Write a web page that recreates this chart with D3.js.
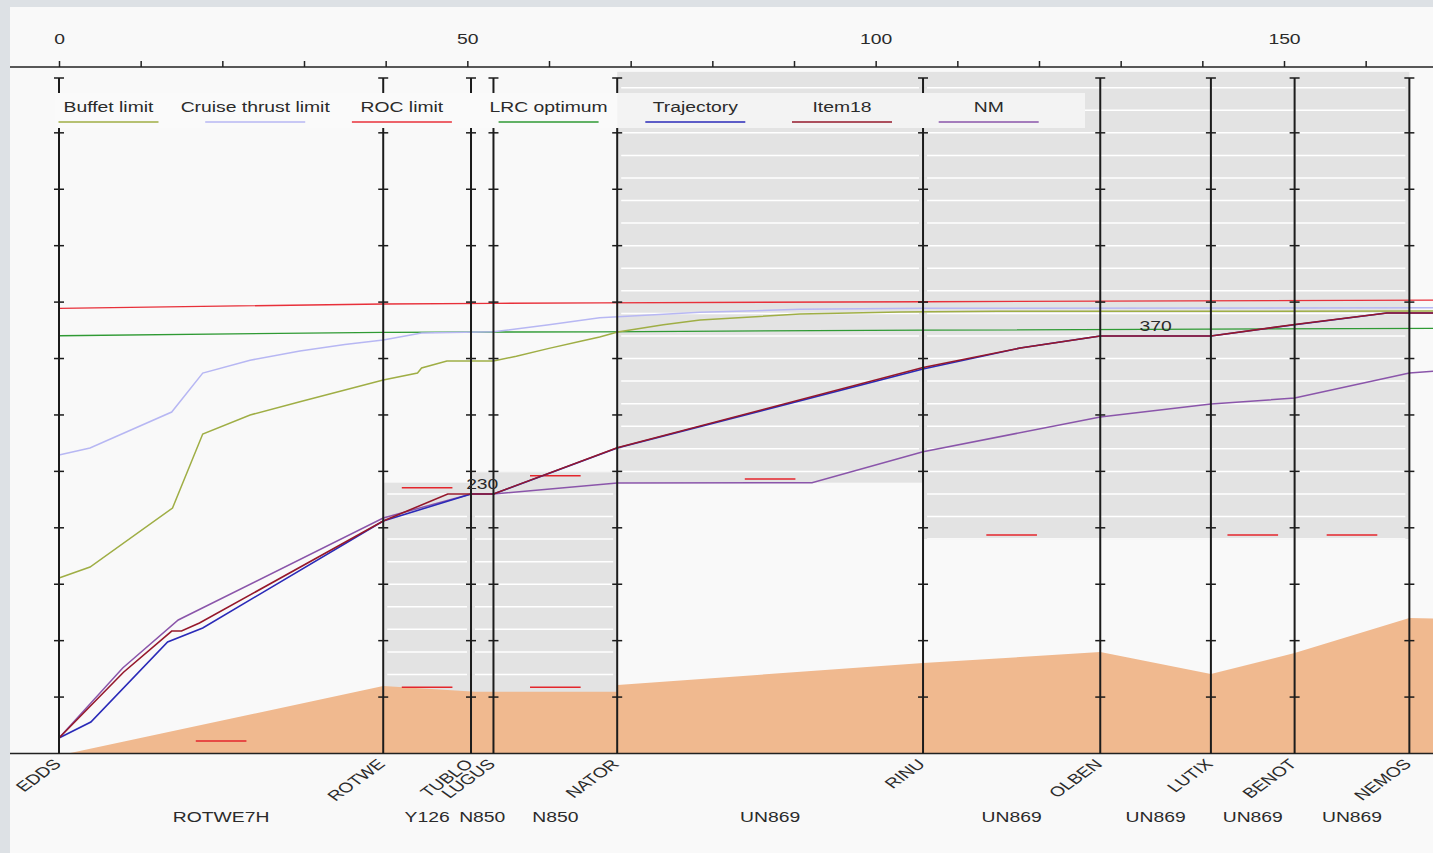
<!DOCTYPE html>
<html>
<head>
<meta charset="utf-8">
<script src="https://cdn.jsdelivr.net/npm/d3@7"></script>
<style>
  body { margin: 0; background: #fafafa; }
  svg { display: block; font-family: "Liberation Sans", Arial, sans-serif; }
</style>
</head>
<body>
<div id="myChart"></div>
<script>
// route
const waypoints = ['EDDS', 'ROTWE', 'TUBLO', 'LUGUS', 'NATOR', 'RINU', 'OLBEN', 'LUTIX', 'BENOT', 'NEMOS'];
const waypointDist = [0, 39.7, 50.45, 53.2, 68.35, 105.8, 127.5, 141.05, 151.3, 165.35];
const airways = ['ROTWE7H', 'Y126', 'N850', 'N850', 'UN869', 'UN869', 'UN869', 'UN869', 'UN869'];

// axes
const distTicks = [0, 10, 20, 30, 40, 50, 60, 70, 80, 90, 100, 110, 120, 130, 140, 150, 160, 170];
const distLabels = [0, 50, 100, 150];
const flTicks = [50, 100, 150, 200, 250, 300, 350, 400, 450, 500, 550];

// series (distance NM / flight level)
const buffetDist = [0, 3.8, 13.9, 17.6, 23.4, 29.5, 39.7, 43.9, 44.4, 47.5, 53.2, 56, 60, 64, 66.2, 68.4, 74, 78.5, 90.7, 103, 115, 170];
const buffetFL = [155.5, 165.2, 217.5, 283.1, 300, 311.7, 331, 337.1, 341.6, 347.8, 347.8, 352, 359, 365.5, 369, 373.5, 380, 384.1, 389.4, 391.2, 391.8, 392.1];
const cruiseDist = [0, 3.8, 13.8, 17.6, 23.4, 29.5, 35, 39.7, 44.4, 53.2, 60, 66.2, 78.5, 90.7, 105.8, 170];
const cruiseFL = [264.5, 270.7, 302.6, 337.1, 348.5, 356.6, 362.5, 366.4, 372.6, 373.7, 380, 386.1, 390.9, 393.6, 394.5, 395];
const rocDist = [0, 39.7, 53.2, 66.2, 105.8, 170];
const rocFL = [394.5, 398.3, 398.9, 399.4, 400.3, 401.8];
const lrcDist = [0, 39.7, 66.2, 105.8, 170];
const lrcFL = [370.2, 373.2, 373.7, 375.2, 376.7];
const trajDist = [0, 3.9, 13.3, 17.6, 39.7, 50.45, 53.2, 68.35, 105.8, 117.7, 127.5, 141.05, 151.3, 162.6, 170];
const trajFL = [13.7, 27.9, 98.8, 111.2, 206, 230, 230, 270.7, 340.7, 359.3, 370, 370, 380, 390.3, 390.3];
const item18Dist = [0, 7.9, 13.8, 15.0, 17.2, 39.7, 47.6, 50.45, 53.2, 68.35, 105.8, 117.7, 127.5, 141.05, 151.3, 162.6, 170];
const item18FL = [13.7, 72, 108.5, 108.5, 115.6, 206, 230, 230, 230, 271, 342, 359.3, 370, 370, 380.1, 390.3, 390.3];
const nmDist = [0, 7.8, 14.6, 39.7, 50.45, 53.2, 68.35, 92.2, 105.8, 127.5, 141.05, 151.3, 165.35, 170];
const nmFL = [13.7, 75.8, 118.3, 208.7, 230, 230, 239.7, 240, 267.4, 298.2, 309.7, 315, 337.2, 339.8];
const terrainDist = [1.1, 39.7, 51, 68.3, 68.4, 105.8, 127.5, 141.05, 151.3, 165.35, 170];
const terrainFL = [0, 59.8, 54.8, 54.8, 60.7, 80.2, 89.9, 70.4, 89, 120.1, 119.2];

// restricted blocks between waypoints (index from, index to, low FL, high FL)
const blockFrom = [1, 2, 4, 5];
const blockTo = [2, 4, 5, 9];
const blockLow = [0, 0, 240, 190];
const blockHigh = [240, 250, 604, 604];

// constraint dashes per segment
const dashSeg = [0, 1, 1, 3, 3, 4, 5, 7, 8];
const dashFL = [11.1, 235.5, 58.6, 246.2, 58.6, 243.2, 193.6, 193.6, 193.6];

// cruise level labels
const levelSeg = [2, 6];
const levelFL = [230, 370];

const legendLabels = ['Buffet limit', 'Cruise thrust limit', 'ROC limit', 'LRC optimum', 'Trajectory', 'Item18', 'NM'];
const legendColors = ['#9fae45', '#b7b7f3', '#e8303a', '#2f9a34', '#2a2ab8', '#95182b', '#8a55aa'];

const W = 1433, H = 853;
const sx = 1.38; // text is drawn horizontally stretched
const fs = 14;
const x = d3.scaleLinear().domain([0, 150]).range([59, 1284]);
const y = d3.scaleLinear().domain([0, 400]).range([753.5, 302.1]);
const textColor = '#2b2b2b';

const svg = d3.select('#myChart').append('svg').attr('width', W).attr('height', H);

svg.append('rect').attr('width', W).attr('height', H).attr('fill', '#f9f9f9');

// gray blocks
const blocks = blockFrom.map((f, i) => ({
  x0: x(waypointDist[f]), x1: x(waypointDist[blockTo[i]]),
  y0: y(blockHigh[i]), y1: y(blockLow[i])
}));
const defs = svg.append('defs');
const clip = defs.append('clipPath').attr('id', 'blockClip');
blocks.forEach(b => clip.append('rect').attr('x', b.x0 + 4).attr('y', b.y0).attr('width', b.x1 - b.x0 - 8).attr('height', b.y1 - b.y0));

svg.selectAll('rect.block').data(blocks).enter().append('rect')
  .attr('class', 'block')
  .attr('x', d => d.x0).attr('y', d => d.y0)
  .attr('width', d => d.x1 - d.x0).attr('height', d => d.y1 - d.y0)
  .attr('fill', '#e3e3e3');

const gridLevels = d3.range(10, 600, 20);
svg.append('g').attr('clip-path', 'url(#blockClip)')
  .selectAll('line').data(gridLevels).enter().append('line')
  .attr('x1', 10).attr('x2', W)
  .attr('y1', d => y(d)).attr('y2', d => y(d))
  .attr('stroke', '#fff').attr('stroke-width', 1.5);

// terrain
const terrain = terrainDist.map((d, i) => [d, terrainFL[i]]);
svg.append('path').datum(terrain)
  .attr('d', d3.area().x(d => x(d[0])).y0(y(0)).y1(d => y(d[1])))
  .attr('fill', '#f0b98f');

// constraint dashes
svg.selectAll('line.dash').data(dashSeg).enter().append('line')
  .attr('class', 'dash')
  .attr('x1', (s) => x((waypointDist[s] + waypointDist[s + 1]) / 2 - 3.1))
  .attr('x2', (s) => x((waypointDist[s] + waypointDist[s + 1]) / 2 + 3.1))
  .attr('y1', (s, i) => y(dashFL[i])).attr('y2', (s, i) => y(dashFL[i]))
  .attr('stroke', '#e4262c').attr('stroke-width', 1.5);

// series
const line = d3.line().x(d => x(d[0])).y(d => y(d[1]));
const series = [
  { dist: rocDist, fl: rocFL, color: legendColors[2], w: 1.3 },
  { dist: lrcDist, fl: lrcFL, color: legendColors[3], w: 1.3 },
  { dist: cruiseDist, fl: cruiseFL, color: legendColors[1], w: 1.5 },
  { dist: buffetDist, fl: buffetFL, color: legendColors[0], w: 1.5 },
  { dist: nmDist, fl: nmFL, color: legendColors[6], w: 1.5 },
  { dist: trajDist, fl: trajFL, color: legendColors[4], w: 1.6 },
  { dist: item18Dist, fl: item18FL, color: legendColors[5], w: 1.6 }
];
svg.selectAll('path.series').data(series).enter().append('path')
  .attr('class', 'series')
  .attr('d', s => line(s.dist.map((d, i) => [d, s.fl[i]])))
  .attr('fill', 'none')
  .attr('stroke', s => s.color)
  .attr('stroke-width', s => s.w);

// bottom line
svg.append('line').attr('x1', 10).attr('x2', W).attr('y1', y(0)).attr('y2', y(0))
  .attr('stroke', '#222').attr('stroke-width', 1.5);

// waypoint verticals
const wp = svg.selectAll('g.wp').data(waypointDist).enter().append('g')
  .attr('class', 'wp')
  .attr('transform', d => 'translate(' + x(d) + ',0)');
wp.append('line').attr('y1', 78).attr('y2', y(0)).attr('stroke', '#1c1c1c').attr('stroke-width', 2);
wp.append('line').attr('x1', -5).attr('x2', 5).attr('y1', 78).attr('y2', 78).attr('stroke', '#1c1c1c').attr('stroke-width', 1.5);
wp.selectAll('line.tk').data(flTicks).enter().append('line')
  .attr('class', 'tk')
  .attr('x1', -5).attr('x2', 5)
  .attr('y1', d => y(d)).attr('y2', d => y(d))
  .attr('stroke', '#1c1c1c').attr('stroke-width', 1.5);

// legend (opaque box, gray blocks show through lightly)
const lgBox = { x: 55, y: 93, w: 1030, h: 35 };
svg.append('rect').attr('x', lgBox.x).attr('y', lgBox.y).attr('width', lgBox.w).attr('height', lgBox.h)
  .attr('fill', '#fafafa');
blocks.filter(b => b.y0 < lgBox.y + lgBox.h && b.x0 < lgBox.x + lgBox.w).forEach(b => {
  svg.append('rect')
    .attr('x', b.x0).attr('y', lgBox.y)
    .attr('width', Math.min(b.x1, lgBox.x + lgBox.w) - b.x0).attr('height', lgBox.h)
    .attr('fill', '#e3e3e3').attr('fill-opacity', 0.3);
});
const lg = svg.selectAll('g.lg').data(legendLabels).enter().append('g')
  .attr('class', 'lg')
  .attr('transform', (d, i) => 'translate(' + (108.5 + i * 146.7) + ',0)');
lg.append('text').text(d => d)
  .attr('transform', 'translate(0,112) scale(' + sx + ',1)')
  .attr('text-anchor', 'middle').attr('font-size', fs).attr('fill', textColor);
lg.append('line').attr('x1', -50).attr('x2', 50).attr('y1', 122).attr('y2', 122)
  .attr('stroke', (d, i) => legendColors[i]).attr('stroke-width', 1.5);

// top axis
const topAxis = d3.axisTop(x).tickValues(distTicks).tickSize(6).tickSizeOuter(0).tickPadding(17)
  .tickFormat(d => distLabels.includes(d) ? d : '');
const ta = svg.append('g').attr('transform', 'translate(0,67)').call(topAxis);
ta.select('.domain').remove();
ta.selectAll('.tick line').attr('stroke', '#222').attr('stroke-width', 1.5);
ta.selectAll('.tick text').attr('font-size', fs).attr('fill', textColor)
  .attr('font-family', '"Liberation Sans", Arial, sans-serif')
  .attr('transform', 'scale(' + sx + ',1)');
svg.append('line').attr('x1', 10).attr('x2', W).attr('y1', 67).attr('y2', 67)
  .attr('stroke', '#222').attr('stroke-width', 1.5);

// waypoint names
svg.selectAll('text.wpname').data(waypoints).enter().append('text')
  .attr('class', 'wpname')
  .text(d => d)
  .attr('transform', (d, i) => 'translate(' + (x(waypointDist[i]) + 3) + ',765) scale(' + sx + ',1) rotate(-45)')
  .attr('text-anchor', 'end').attr('font-size', fs).attr('fill', textColor);

// airway names
svg.selectAll('text.awy').data(airways).enter().append('text')
  .attr('class', 'awy')
  .text(d => d)
  .attr('transform', (d, i) => 'translate(' + x((waypointDist[i] + waypointDist[i + 1]) / 2) + ',822) scale(' + sx + ',1)')
  .attr('text-anchor', 'middle').attr('font-size', fs).attr('fill', textColor);

// level labels
svg.selectAll('text.lvl').data(levelSeg).enter().append('text')
  .attr('class', 'lvl')
  .text((s, i) => levelFL[i])
  .attr('transform', (s, i) => 'translate(' + x((waypointDist[s] + waypointDist[s + 1]) / 2) + ',' + (y(levelFL[i]) - 5) + ') scale(' + sx + ',1)')
  .attr('text-anchor', 'middle').attr('font-size', fs).attr('fill', textColor);

// page border
svg.append('rect').attr('x', 0).attr('y', 0).attr('width', 10).attr('height', H).attr('fill', '#dde1e5');
svg.append('rect').attr('x', 0).attr('y', 0).attr('width', W).attr('height', 7).attr('fill', '#dde1e5');
</script>
</body>
</html>
